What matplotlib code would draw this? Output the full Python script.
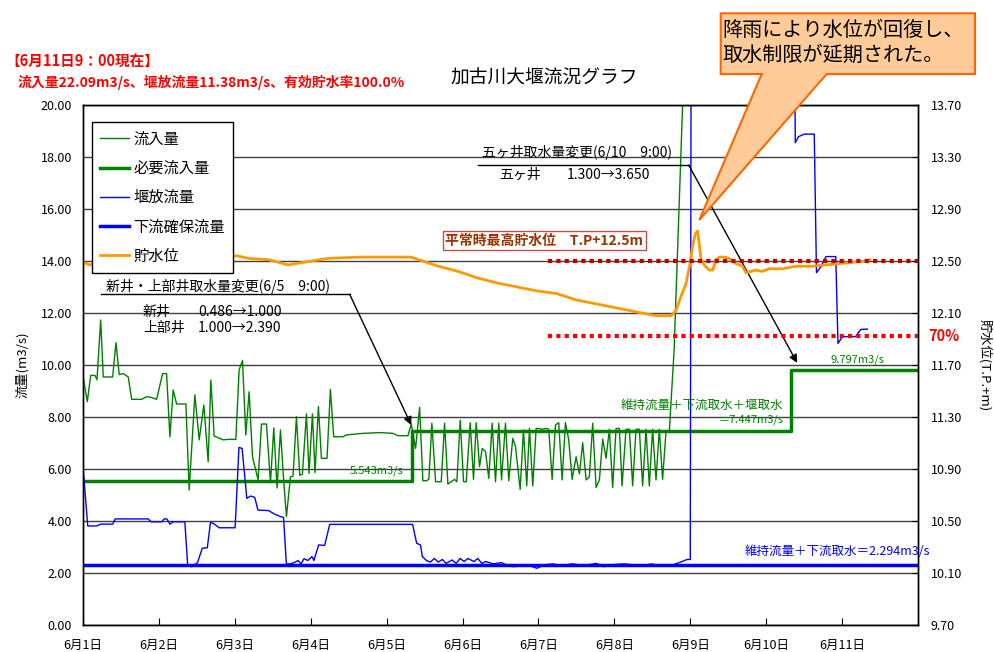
import matplotlib
matplotlib.use('Agg')
import matplotlib.pyplot as plt
from matplotlib.patches import Polygon
from matplotlib.ticker import FormatStrFormatter

plt.rcParams['font.family'] = ['Noto Sans CJK JP', 'DejaVu Sans']

# ---------------- data (hours since 6/1 0:00) ----------------
day_labels = ['6月1日', '6月2日', '6月3日', '6月4日', '6月5日', '6月6日',
              '6月7日', '6月8日', '6月9日', '6月10日', '6月11日']

inflow_t = [0, 1.36, 2.43, 3.79, 4.42, 5.59, 6.41, 9.38, 10.42, 11.46, 12.73, 14.3, 15.38, 18.54,
            20.12, 21.69, 23.27, 25.17, 26.43, 27.47, 28.52, 29.59, 32.53, 33.57, 35.37, 36.73,
            38.21, 39.57, 40.42, 41.46, 44.3, 45.88, 48.32, 49.36, 50.43, 51.47, 52.52, 53.59,
            55.36, 56.43, 58.01, 59.27, 60.32, 61.36, 62.43, 63.47, 64.33, 65.59, 66.41, 67.48,
            68.53, 69.37, 70.64, 71.46, 72.54, 73.36, 74.43, 75.38, 77.15, 78.22, 79.26, 82.2,
            83.27, 88.52, 93.79, 97.99, 99.57, 102.73, 103.8, 105.16, 106.42, 107.46, 108.72,
            109.35, 110.3, 111.47, 113.27, 114.32, 115.36, 116.43, 117.47, 118.2, 119.27, 120.32,
            121.17, 122.43, 123.47, 124.32, 125.37, 126.22, 127.26, 128.3, 129.37, 130.42, 131.46,
            132.32, 133.58, 134.62, 135.88, 136.74, 138.22, 139.26, 140.3, 141.16, 142.2, 143.27,
            144.1, 145.17, 146.43, 147.25, 148.33, 149.37, 150.41, 151.48, 152.53, 153.57, 154.64,
            155.9, 156.95, 157.99, 159.06, 160.1, 161.15, 162.22, 163.26, 164.31, 165.38, 166.42,
            167.46, 168.53, 169.58, 170.43, 171.69, 172.74, 173.78, 174.85, 175.89, 176.94,
            178.01, 179.05, 180.09, 181.17, 182.21, 183.25, 184.33, 185.37, 186.9, 189.6, 191,
            200, 215, 235, 249]
inflow_v = [9.55, 8.59, 9.6, 9.6, 9.43, 11.73, 9.54, 9.54, 10.86, 9.63, 9.67, 9.54, 8.68, 8.68,
            8.78, 8.75, 8.68, 9.67, 9.67, 7.24, 9.04, 8.5, 8.5, 5.19, 8.85, 7.12,
            8.46, 6.28, 9.42, 7.27, 7.12, 7.14, 7.14, 9.81, 10.17, 7.31, 8.97, 6.47,
            5.58, 7.73, 7.73, 5.47, 7.58, 5.27, 7.5, 5.51, 4.17, 5.7, 5.73, 8.01,
            5.76, 5.8, 8.12, 5.83, 8.12, 5.86, 8.4, 6.41, 6.41, 9.06, 7.24, 7.24,
            7.31, 7.37, 7.4, 7.37, 7.28, 7.28, 7.73, 6.79, 8.37, 5.55, 5.55,
            5.62, 7.76, 5.51, 5.51, 7.76, 5.42, 5.51, 5.6, 5.51, 7.88, 5.51,
            5.51, 7.78, 5.6, 7.78, 6.09, 6.79, 6.67, 5.64, 7.76, 5.51, 7.76,
            5.58, 7.76, 5.55, 7.18, 6.86, 5.22, 7.5, 5.35, 7.56, 5.35, 7.56,
            7.56, 7.53, 7.56, 7.53, 5.6, 7.69, 7.78, 5.58, 7.78, 7.12, 5.6,
            6.47, 5.81, 7.01, 5.58, 5.7, 7.76, 5.29, 5.58, 7.15, 6.41, 7.53,
            5.29, 7.56, 7.56, 5.35, 7.53, 7.53, 5.35, 7.53, 7.53, 5.35,
            7.53, 5.35, 7.53, 5.58, 7.53, 5.6, 7.44, 7.44, 10.6, 20.0, 25,
            32, 30, 26, 22.09]

required_t = [0, 104, 224, 264]
required_v = [5.543, 7.447, 9.797, 9.797]

release_t = [0, 1.5, 4.4, 5.6, 9.4, 10.2, 20.6, 21.5, 25.0, 25.6, 26.5, 27.5, 28.5, 32.2, 33.1,
             34.3, 36.2, 37.7, 39.3, 40.3, 41.2, 43.1, 48.1, 49.3, 50.3, 51.8, 53.0, 54.3, 55.3,
             58.7, 60.5, 62.4, 63.4, 64.3, 65.5, 66.8, 68.0, 68.9, 69.9, 71.1, 72.4, 73.0, 74.5,
             76.4, 78.0, 104.2, 105.5, 106.7, 107.3, 108.6, 109.8, 111.1, 112.3, 113.6, 114.8,
             116.7, 118.0, 119.2, 120.5, 121.7, 123.6, 124.8, 126.1, 127.3, 129.8, 132.3, 134.2,
             136.1, 138.6, 141.0, 143.5, 146.0, 148.5, 151.0, 154.8, 158.5, 162.3, 164.8, 167.3,
             171.0, 173.5, 177.2, 179.7, 182.2, 186.0, 188.5, 191.0, 192.0, 192.5, 200, 215,
             224.6, 225.2, 226.2, 228.0, 231.2, 231.9, 233.3, 234.9, 238.0, 238.7, 240.1, 244.3,
             245.9, 248.0]
release_v = [6.1, 3.81, 3.81, 3.88, 3.88, 4.08, 4.08, 3.97, 3.97, 4.08, 4.08, 3.88, 3.97, 3.97, 2.29,
             2.24, 2.4, 2.95, 2.97, 3.94, 3.91, 3.74, 3.74, 6.83, 6.79, 4.87, 4.96, 4.91, 4.42,
             4.4, 4.27, 4.17, 4.14, 2.35, 2.35, 2.4, 2.48, 2.35, 2.55, 2.48, 2.63, 2.48, 3.08,
             3.06, 3.87, 3.87, 3.14, 3.08, 2.63, 2.48, 2.42, 2.56, 2.42, 2.52, 2.37,
             2.5, 2.37, 2.56, 2.44, 2.56, 2.44, 2.56, 2.37, 2.44, 2.35, 2.4, 2.29,
             2.24, 2.29, 2.29, 2.18, 2.32, 2.35, 2.29, 2.35, 2.29, 2.37, 2.24, 2.32,
             2.35, 2.32, 2.29, 2.35, 2.29, 2.29, 2.4, 2.52, 2.52, 40, 60, 60,
             30, 18.55, 18.78, 18.88, 18.88, 13.55, 13.78, 14.17, 14.17, 10.83, 11.09, 11.09,
             11.37, 11.38]

downstream_t = [0, 264]
downstream_v = [2.294, 2.294]

level_t = [0, 2.2, 10, 25, 40, 48.6, 52.4, 58.7, 64.9, 69.8, 77.4, 87.4, 103.6, 107.4, 112.3,
           118.6, 124.7, 131.1, 137.3, 143.5, 149.7, 156.0, 162.3, 168.5, 174.6, 180.9, 186.0,
           187.5, 189.1, 190.7, 191.9, 192.7, 193.6, 194.3, 194.8, 195.4, 196.4, 198.0, 199.1,
           200.1, 201.2, 202.7, 204.3, 206.4, 208.5, 209.6, 211.2, 212.7, 214.7, 216.9, 221.1,
           225.4, 230.6, 234.8, 239.1, 243.3, 247.5, 248.8]
level_v = [12.49, 12.47, 12.51, 12.52, 12.52, 12.54, 12.52, 12.51, 12.47, 12.49, 12.52, 12.53,
           12.53, 12.50, 12.46, 12.42, 12.37, 12.33, 12.30, 12.27, 12.25, 12.20, 12.17, 12.14,
           12.11, 12.08, 12.08, 12.12, 12.23, 12.33, 12.48, 12.61, 12.71, 12.73, 12.64, 12.51,
           12.47, 12.43, 12.43, 12.51, 12.53, 12.53, 12.52, 12.48, 12.46, 12.41, 12.42, 12.43,
           12.42, 12.44, 12.44, 12.46, 12.46, 12.47, 12.48, 12.49, 12.50, 12.51]

ref_t = [147, 264]
level_max = 12.50
level_70 = 11.92

# ---------------- figure ----------------
fig = plt.figure(figsize=(9.95, 6.52), dpi=100)
ax = fig.add_axes([83/995, 1-625/652, 835/995, 520/652])
ax2 = ax.twinx()

GREEN = '#008000'
BLUE = '#0000FF'
ORANGE = '#FF9900'

ax.set_xlim(0, 264)
ax.set_ylim(0, 20)
ax.set_yticks([0, 2, 4, 6, 8, 10, 12, 14, 16, 18, 20])
ax.yaxis.set_major_formatter(FormatStrFormatter('%.2f'))
ax.set_xticks([24*i for i in range(len(day_labels))])
ax.set_xticklabels(day_labels)
ax.yaxis.grid(True, color='#404040', lw=1.0)
ax.set_axisbelow(True)

ax2.set_ylim(9.7, 13.7)
ax2.set_yticks([9.7 + 0.4*i for i in range(11)])
ax2.yaxis.set_major_formatter(FormatStrFormatter('%.2f'))

ax.tick_params(axis='x', direction='in', length=5, labelsize=9, pad=10)
ax.tick_params(axis='y', direction='in', length=0, labelsize=9, pad=8)
ax2.tick_params(axis='y', direction='in', length=4, labelsize=9, pad=9)
for a in (ax, ax2):
    for s in a.spines.values():
        s.set_color('black')
        s.set_linewidth(1.0)

l_in, = ax.plot(inflow_t, inflow_v, color=GREEN, lw=1.0, label='流入量')
l_req, = ax.plot(required_t, required_v, color=GREEN, lw=2.5, drawstyle='steps-post', label='必要流入量')
l_rel, = ax.plot(release_t, release_v, color=BLUE, lw=1.0, label='堰放流量')
l_ds, = ax.plot(downstream_t, downstream_v, color=BLUE, lw=2.5, label='下流確保流量')
l_lv, = ax2.plot(level_t, level_v, color=ORANGE, lw=2.0, label='貯水位')

ax2.plot(ref_t, [level_max]*2, color='#C00000', lw=3, linestyle=(0, (1, 1)))
ax2.plot(ref_t, [level_70]*2, color='#FF0000', lw=3, linestyle=(0, (1, 1)))

leg = ax2.legend(handles=[l_in, l_req, l_rel, l_ds, l_lv], loc='upper left',
                 bbox_to_anchor=(0.0108, 0.9667), borderaxespad=0, fontsize=11,
                 fancybox=False, framealpha=1, edgecolor='black', handlelength=1.9,
                 handletextpad=0.25, labelspacing=0.8, borderpad=0.55)
leg.get_frame().set_linewidth(1.0)

# ---------------- annotations ----------------
ax.text(7.3, 13.01, '新井・上部井取水量変更(6/5\u30009:00)', fontsize=10, va='center', ha='left')
ax.plot([5.6, 84.3], [12.72, 12.72], color='black', lw=1)
ax.annotate('', xy=(103.8, 7.69), xytext=(84.3, 12.72),
            arrowprops=dict(arrowstyle='-|>', color='black', lw=1, shrinkA=0, shrinkB=0,
                            mutation_scale=12))
ax.text(19.0, 12.05, '新井', fontsize=10, va='center')
ax.text(36.4, 12.05, '0.486→1.000', fontsize=10, va='center')
ax.text(19.0, 11.41, '上部井', fontsize=10, va='center')
ax.text(36.4, 11.41, '1.000→2.390', fontsize=10, va='center')

ax.text(126.2, 18.17, '五ヶ井取水量変更(6/10\u30009:00)', fontsize=10, va='center', ha='left')
ax.plot([124.8, 191.5], [17.69, 17.69], color='black', lw=1)
ax.annotate('', xy=(225.8, 10.08), xytext=(191.5, 17.69),
            arrowprops=dict(arrowstyle='-|>', color='black', lw=1, shrinkA=0, shrinkB=0,
                            mutation_scale=12))
ax.text(131.7, 17.31, '五ヶ井', fontsize=10, va='center')
ax.text(153.1, 17.31, '1.300→3.650', fontsize=10, va='center')

ax.text(101.2, 5.93, '5.543m3/s', fontsize=8, color=GREEN, ha='right', va='center')
ax.text(221.4, 8.46, '維持流量＋下流取水＋堰取水', fontsize=9, color=GREEN, ha='right', va='center')
ax.text(221.4, 7.88, '＝7.447m3/s', fontsize=8, color=GREEN, ha='right', va='center')
ax.text(253.3, 10.19, '9.797m3/s', fontsize=8, color=GREEN, ha='right', va='center')
ax.text(209.3, 2.82, '維持流量＋下流取水＝2.294m3/s', fontsize=9, color=BLUE, ha='left', va='center')

ax.text(145.9, 14.78, '平常時最高貯水位\u3000T.P+12.5m', fontsize=10, fontweight='bold',
        color='#993300', ha='center', va='center',
        bbox=dict(boxstyle='square,pad=0.2', fc='white', ec='#C0504D', lw=1))
ax.text(1.012, (level_70 - 9.7)/4.0, '70%', transform=ax.transAxes, fontsize=10.5,
        fontweight='bold', color='#FF0000', ha='left', va='center')

# titles / labels
fig.text(544/995, 1-78/652, '加古川大堰流況グラフ', fontsize=13.5, ha='center', va='center')
fig.text(5/995, 1-62/652, '【6月11日9：00現在】', fontsize=10.5, fontweight='bold', color='#FF0000',
         ha='left', va='center')
fig.text(18/995, 1-82/652, '流入量22.09m3/s、堰放流量11.38m3/s、有効貯水率100.0%', fontsize=10,
         fontweight='bold', color='#FF0000', ha='left', va='center')
fig.text(22/995, 1-365/652, '流量(m3/s)', fontsize=9.5, rotation=90, ha='center', va='center')
fig.text(985/995, 1-365/652, '貯水位(T.P.+m)', fontsize=9.5, rotation=-90, ha='center', va='center')

# callout
pts = [(720.7, 13.3), (975, 13.3), (975, 74), (826.7, 74), (699.3, 220), (761.7, 74), (720.7, 74)]
poly = Polygon([(x/995, 1-y/652) for x, y in pts], closed=True, transform=fig.transFigure,
               fc='#FFCC99', ec='#FF6600', lw=1.5, zorder=5)
fig.patches.append(poly)
fig.text(722.5/995, 1-30/652, '降雨により水位が回復し、', fontsize=14.5, ha='left', va='center', zorder=6)
fig.text(722.5/995, 1-55/652, '取水制限が延期された。', fontsize=14.5, ha='left', va='center', zorder=6)

fig.savefig('out.png', dpi=100)
